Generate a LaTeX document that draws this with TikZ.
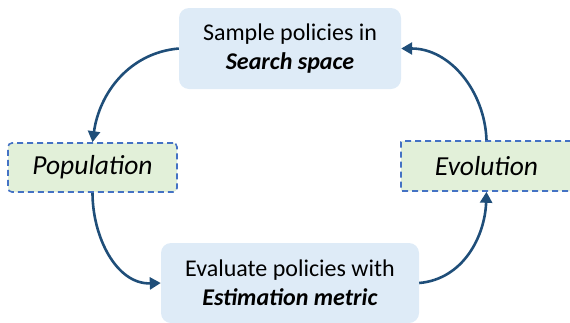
\documentclass[tikz,border=0pt]{standalone}
\usepackage{fontspec}
\setmainfont{Carlito}
\usetikzlibrary{arrows.meta}
\definecolor{boxblue}{HTML}{DEEBF7}
\definecolor{boxgreen}{HTML}{E2F0D9}
\definecolor{dashblue}{HTML}{4472C4}
\definecolor{arrowblue}{HTML}{1F4E79}
\tikzset{
  stepbox/.style={fill=boxblue, draw=none, rounded corners=10pt, inner sep=0pt,
    align=center, font=\fontsize{24}{29}\selectfont},
  stagebox/.style={fill=boxgreen, draw=dashblue, dash pattern=on 6pt off 4pt,
    line width=1.6pt, rounded corners=4pt, inner sep=0pt,
    font=\fontsize{27.5}{30}\selectfont\itshape},
  flow/.style={draw=arrowblue, line width=2.6pt,
    -{Triangle[length=11pt,width=12pt]}},
}
\begin{document}
\begin{tikzpicture}[x=1pt,y=-1pt]
  \useasboundingbox (0,0) rectangle (570,322);
  \clip (0,0) rectangle (570,322);
  % process steps
  \node[stepbox, minimum width=222pt, minimum height=81pt] (sample) at (290,48.5)
    {Sample policies in\\\textbf{\textit{Search space}}};
  \node[stepbox, minimum width=258pt, minimum height=80pt] (evaluate) at (290,283)
    {Evaluate policies with\\\textbf{\textit{Estimation metric}}};
  % stages
  \node[stagebox, minimum width=169pt, minimum height=49pt] (pop) at (92.5,167.5) {Population};
  \node[stagebox, rounded corners=1pt, minimum width=171pt, minimum height=50pt] (evo) at (486.5,166) {Evolution};
  % cycle
  \draw[flow] (sample.west) to[out=185, in=82] (pop.north);
  \draw[flow] (pop.south) to[out=-90, in=182] (evaluate.west);
  \draw[flow] (evaluate.east) to[out=5, in=-92] (evo.south);
  \draw[flow] (evo.north) to[out=92, in=0] (sample.east);
\end{tikzpicture}
\end{document}
